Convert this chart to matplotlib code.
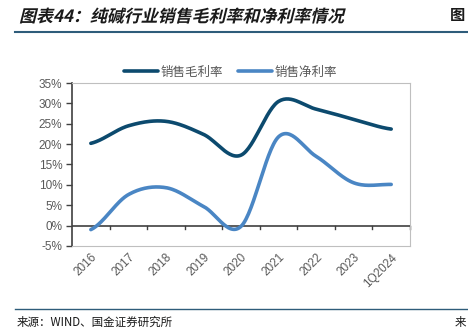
import numpy as np
import matplotlib.pyplot as plt
from matplotlib.textpath import TextPath
from matplotlib.patches import PathPatch
from matplotlib.font_manager import FontProperties
from matplotlib.transforms import Affine2D, IdentityTransform

plt.rcParams['font.family'] = ['Liberation Sans', 'Noto Sans CJK SC', 'DejaVu Sans']

# 数据
years = ['2016', '2017', '2018', '2019', '2020', '2021', '2022', '2023', '1Q2024']
gross = [20.2, 24.5, 25.6, 22.4, 17.3, 30.5, 28.6, 26.1, 23.7]
net = [-1.0, 7.6, 9.3, 4.7, -0.2, 21.8, 17.0, 10.5, 10.1]

dark = '#0C4A6E'
light = '#4A86C4'


def smooth(y, n=30):
    # Catmull-Rom 平滑（类似 Excel 平滑线）
    x = np.arange(len(y), dtype=float)
    p = np.array(y, dtype=float)
    pts_x, pts_y = [], []
    for i in range(len(p) - 1):
        p0 = p[i - 1] if i > 0 else p[i]
        p3 = p[i + 2] if i + 2 < len(p) else p[i + 1]
        p1, p2 = p[i], p[i + 1]
        t = np.linspace(0, 1, n, endpoint=False)
        yy = 0.5 * ((2 * p1) + (-p0 + p2) * t + (2 * p0 - 5 * p1 + 4 * p2 - p3) * t ** 2
                    + (-p0 + 3 * p1 - 3 * p2 + p3) * t ** 3)
        pts_x.extend(x[i] + t)
        pts_y.extend(yy)
    pts_x.append(x[-1])
    pts_y.append(p[-1])
    return np.array(pts_x), np.array(pts_y)


fig = plt.figure(figsize=(4.68, 3.35), dpi=100)
ax = fig.add_axes([0.154, 0.266, 0.722, 0.486])

gx, gy = smooth(gross)
nx, ny = smooth(net)
ax.plot(gx, gy, color=dark, lw=2.6, label='销售毛利率', solid_capstyle='round')
ax.plot(nx, ny, color=light, lw=2.6, label='销售净利率', solid_capstyle='round')

ax.set_xlim(-0.5, len(years) - 0.5)
ax.set_ylim(-5, 35)
ax.set_yticks(range(-5, 36, 5))
ax.set_yticklabels([f'{v}%' for v in range(-5, 36, 5)], color='#595959', fontsize=8.5)

ax.set_xticks(range(len(years)))
ax.set_xticklabels(years, rotation=45, ha='right', rotation_mode='anchor',
                   color='#595959', fontsize=8.5)
ax.tick_params(axis='x', length=0, pad=4)
ax.tick_params(axis='y', length=4, color='#404040', width=1, pad=3)

for s in ['top', 'right', 'bottom']:
    ax.spines[s].set_color('#BFBFBF')
    ax.spines[s].set_linewidth(0.8)
ax.spines['left'].set_color('#404040')
ax.spines['left'].set_linewidth(1.2)

# 0% 轴线和刻度
ax.axhline(0, color='#404040', lw=1.2, zorder=1)
for b in np.arange(0.5, len(years) - 0.4, 1):
    ax.plot([b, b], [0, -0.8], color='#404040', lw=1, zorder=1, clip_on=False)

leg = fig.legend(loc='upper center', bbox_to_anchor=(0.493, 0.838), ncol=2, frameon=False,
                 prop={'family': ['Noto Sans CJK SC'], 'size': 9},
                 handlelength=2.7, columnspacing=1.2, handletextpad=0.2)
for t in leg.get_texts():
    t.set_color('#595959')

# 标题（用斜切模拟斜体）
fp = FontProperties(family='Noto Sans CJK SC', weight='bold')
tp = TextPath((0, 0), '图表44：纯碱行业销售毛利率和净利率情况', size=12.2, prop=fp)
tr = Affine2D().skew_deg(14, 0).scale(100 / 72).translate(19, 335 - 22)
fig.add_artist(PathPatch(tr.transform_path(tp), transform=IdentityTransform(),
                         facecolor='#1A1A1A', edgecolor='none'))
fig.text(0.962, 0.955, '图', fontsize=11, fontweight='bold', family='Noto Sans CJK SC',
         color='#1A1A1A', va='center')

fig.add_artist(plt.Line2D([0.032, 1.0], [0.905, 0.905], color='#2E5C7A', lw=1.5))
fig.add_artist(plt.Line2D([0.032, 1.0], [0.078, 0.078], color='#2E5C7A', lw=1.0))
fig.text(0.036, 0.038, '来源：WIND、国金证券研究所', fontsize=8.3, family='Noto Sans CJK SC',
         color='#1A1A1A', va='center')
fig.text(0.972, 0.038, '来', fontsize=8.3, family='Noto Sans CJK SC', color='#1A1A1A', va='center')

fig.savefig('out.png', dpi=100)
